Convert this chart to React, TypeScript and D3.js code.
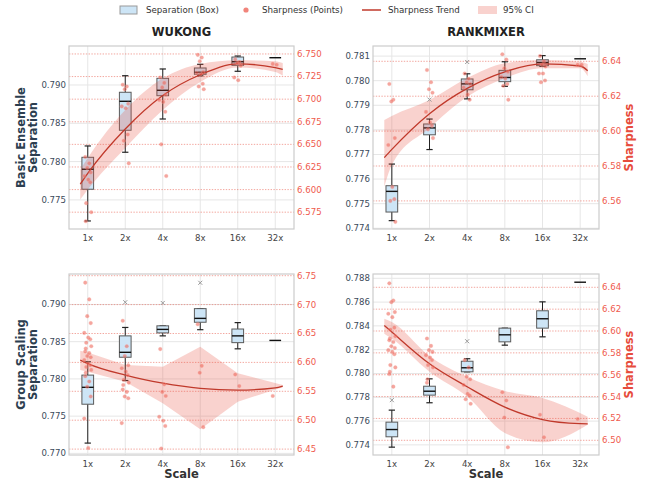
import React from "react";
import * as d3 from "d3";

// ---------- data ----------
const SCALES = ["1x", "2x", "4x", "8x", "16x", "32x"];
const MODELS = ["WUKONG", "RANKMIXER"];
const SETTINGS = ["Basic Ensemble", "Group Scaling"];

// Separation box stats per scale: [whisker low, q1, median, q3, whisker high]
const wukongBasicBoxes = [
  [0.77225, 0.77639, 0.779, 0.78056, 0.78204],
  [0.78122, 0.78409, 0.78787, 0.78905, 0.79121],
  [0.78556, 0.7886, 0.78931, 0.79087, 0.79209],
  [0.7912, 0.7914, 0.79166, 0.79222, 0.7927],
  [0.79179, 0.79257, 0.79304, 0.79365, 0.79378],
  [0.79356, 0.79356, 0.79356, 0.79356, 0.79356],
];
const rankmixerBasicBoxes = [
  [0.77431, 0.77466, 0.7755, 0.77573, 0.77661],
  [0.7772, 0.7778, 0.77808, 0.77824, 0.77844],
  [0.77926, 0.77963, 0.77987, 0.78007, 0.78028],
  [0.77977, 0.77996, 0.78013, 0.78042, 0.78077],
  [0.78058, 0.78061, 0.78074, 0.78085, 0.78102],
  [0.78089, 0.78089, 0.78089, 0.78089, 0.78089],
];
const wukongGroupBoxes = [
  [0.77138, 0.7766, 0.77887, 0.78051, 0.7823],
  [0.77978, 0.78291, 0.78357, 0.78578, 0.78691],
  [0.78578, 0.78618, 0.78665, 0.78713, 0.78713],
  [0.78661, 0.78761, 0.78813, 0.78944, 0.78944],
  [0.78404, 0.78487, 0.78578, 0.7867, 0.78756],
  [0.78517, 0.78517, 0.78517, 0.78517, 0.78517],
];
const rankmixerGroupBoxes = [
  [0.77381, 0.77468, 0.77529, 0.77591, 0.77692],
  [0.77754, 0.77818, 0.77851, 0.77893, 0.77955],
  [0.78014, 0.78014, 0.78048, 0.78103, 0.78124],
  [0.78238, 0.78266, 0.78325, 0.78381, 0.78381],
  [0.78308, 0.78381, 0.7846, 0.78527, 0.78602],
  [0.78767, 0.78767, 0.78767, 0.78767, 0.78767],
];

// Separation outliers: [scale index, value]
const wukongBasicOutliers: number[][] = [];
const rankmixerBasicOutliers = [[1, 0.77923], [2, 0.78076]];
const wukongGroupOutliers = [[1, 0.7903], [2, 0.7902], [3, 0.79291]];
const rankmixerGroupOutliers = [[0, 0.77776], [2, 0.78271]];

// Sharpness samples per scale
const wukongBasicSharp = [
  [6.636, 6.629, 6.624, 6.619, 6.615, 6.611, 6.608, 6.585, 6.575, 6.565],
  [6.716, 6.714, 6.711, 6.695, 6.692, 6.69, 6.661, 6.654, 6.629],
  [6.724, 6.718, 6.713, 6.705, 6.699, 6.697, 6.686, 6.65, 6.615],
  [6.749, 6.746, 6.742, 6.73, 6.729, 6.728, 6.717, 6.714, 6.711],
  [6.744, 6.741, 6.74, 6.737, 6.724, 6.721],
  [6.739, 6.738],
];
const rankmixerBasicSharp = [
  [6.627, 6.618, 6.617, 6.596, 6.592, 6.568, 6.561, 6.56, 6.548],
  [6.635, 6.628, 6.624, 6.622, 6.611, 6.605, 6.603, 6.601, 6.596],
  [6.633, 6.63, 6.628, 6.627, 6.625, 6.621, 6.618],
  [6.644, 6.641, 6.636, 6.634, 6.631, 6.63, 6.627, 6.626, 6.618],
  [6.643, 6.64, 6.638, 6.637, 6.633, 6.633, 6.629, 6.628],
  [6.638, 6.638],
];
const wukongGroupSharp = [
  [6.738, 6.709, 6.68, 6.668, 6.651, 6.643, 6.64, 6.634, 6.628, 6.624, 6.619, 6.616, 6.611,
    6.609, 6.604, 6.598, 6.595, 6.592, 6.587, 6.582, 6.576, 6.567, 6.558, 6.541, 6.503, 6.452],
  [6.672, 6.628, 6.611, 6.595, 6.59, 6.584, 6.578, 6.57, 6.565, 6.561, 6.553, 6.549, 6.541, 6.538, 6.495],
  [6.623, 6.562, 6.549, 6.542, 6.506, 6.499, 6.49, 6.451],
  [6.666, 6.594, 6.582, 6.488],
  [6.579, 6.559],
  [6.542],
];
const rankmixerGroupSharp = [
  [6.6436, 6.6279, 6.6264, 6.6173, 6.6158, 6.6127, 6.6031, 6.6013, 6.5952, 6.5931, 6.5915,
    6.59, 6.5861, 6.5845, 6.5825, 6.5809, 6.5788, 6.5688, 6.5667, 6.5627, 6.5606, 6.5491],
  [6.5931, 6.5864, 6.5825, 6.5809, 6.5779, 6.5758, 6.5734, 6.5688, 6.5667, 6.5558, 6.5527],
  [6.5734, 6.5667, 6.5582, 6.5558, 6.5506, 6.5425, 6.5409, 6.5376, 6.5334],
  [6.544, 6.5364, 6.5209, 6.4936],
  [6.5234, 6.5027],
  [6.5195],
];

// Sharpness trend (position on the scale index axis) and 95% CI
const trendX = [-0.2, 0, 1, 2, 3, 4, 5, 5.2];
const wukongBasicTrend = [6.606, 6.618, 6.667, 6.704, 6.727, 6.739, 6.735, 6.733];
const rankmixerBasicTrend = [6.5848, 6.5895, 6.61, 6.6245, 6.634, 6.6385, 6.6373, 6.6346];
const wukongGroupTrend = [6.604, 6.598, 6.578, 6.564, 6.555, 6.552, 6.556, 6.559];
const rankmixerGroupTrend = [6.605, 6.599, 6.57, 6.549, 6.5304, 6.519, 6.5152, 6.515];

const wukongBasicCiX = [-0.2, 0, 1, 2, 3, 4, 5, 5.2];
const wukongBasicCiLo = [6.589, 6.6, 6.646, 6.688, 6.719, 6.735, 6.73, 6.726];
const wukongBasicCiHi = [6.622, 6.635, 6.688, 6.723, 6.739, 6.743, 6.742, 6.74];
const rankmixerBasicCiX = [-0.2, 0, 1, 2, 3, 4, 5, 5.2];
const rankmixerBasicCiLo = [6.5681, 6.5806, 6.6018, 6.6197, 6.6303, 6.636, 6.636, 6.6315];
const rankmixerBasicCiHi = [6.6064, 6.6087, 6.6178, 6.6304, 6.6389, 6.6407, 6.6398, 6.6385];
const wukongGroupCiX = [-0.2, 0, 1, 2, 3, 4, 5.2];
const wukongGroupCiLo = [6.5869, 6.584, 6.5666, 6.5292, 6.4843, 6.532, 6.5569];
const wukongGroupCiHi = [6.62, 6.617, 6.5955, 6.5926, 6.6272, 6.5811, 6.5609];
const rankmixerGroupCiX = [-0.2, 0, 1, 2, 3, 4, 5.2];
const rankmixerGroupCiLo = [6.5976, 6.5931, 6.5627, 6.54, 6.5067, 6.4982, 6.5143];
const rankmixerGroupCiHi = [6.6113, 6.6082, 6.577, 6.5582, 6.5452, 6.5386, 6.5215];

// Axis ticks
const sepTicksWB = [0.775, 0.78, 0.785, 0.79];
const sepTicksRB = [0.774, 0.775, 0.776, 0.777, 0.778, 0.779, 0.78, 0.781];
const sepTicksWG = [0.77, 0.775, 0.78, 0.785, 0.79];
const sepTicksRG = [0.774, 0.776, 0.778, 0.78, 0.782, 0.784, 0.786, 0.788];
const shpTicksWB = [6.575, 6.6, 6.625, 6.65, 6.675, 6.7, 6.725, 6.75];
const shpTicksRB = [6.56, 6.58, 6.6, 6.62, 6.64];
const shpTicksWG = [6.45, 6.5, 6.55, 6.6, 6.65, 6.7, 6.75];
const shpTicksRG = [6.5, 6.52, 6.54, 6.56, 6.58, 6.6, 6.62, 6.64];

// ---------- layout & style ----------
const W = 653;
const H = 482;
const FONT = "DejaVu Sans, Verdana, sans-serif";
const COLS = [{ l: 69, r: 294 }, { l: 373, r: 599 }];
const ROWS = [{ t: 46, b: 229 }, { t: 274, b: 455 }];

const C = {
  boxFill: "#cde5f6",
  boxStroke: "#5a5a5a",
  point: "#ec5b4f",
  trend: "#c0392b",
  band: "#e74c3c",
  redText: "#ef5a4c",
  sepText: "#3b4a5a",
  axisTitle: "#2c3e50",
  grid: "#e6e6e6",
  frame: "#cccccc",
};

const JITTER = [-2.5, 1.5, -0.5, 3, -3.5, 0.5, 2.5, -1.5, 3.5, -2];

type PanelCfg = {
  row: number;
  col: number;
  sepDomain: [number, number];
  shpDomain: [number, number];
  sepTicks: number[];
  shpTicks: number[];
  shpFmt: string;
  boxes: number[][];
  outliers: number[][];
  sharp: number[][];
  trend: number[];
  ciX: number[];
  ciLo: number[];
  ciHi: number[];
  ciCurve: any;
};

const panels: PanelCfg[] = [
  {
    row: 0, col: 0, sepDomain: [0.7712, 0.79509], shpDomain: [6.5564, 6.7588],
    sepTicks: sepTicksWB, shpTicks: shpTicksWB, shpFmt: ".3f",
    boxes: wukongBasicBoxes, outliers: wukongBasicOutliers, sharp: wukongBasicSharp,
    trend: wukongBasicTrend, ciX: wukongBasicCiX, ciLo: wukongBasicCiLo, ciHi: wukongBasicCiHi,
    ciCurve: d3.curveMonotoneX,
  },
  {
    row: 0, col: 1, sepDomain: [0.77397, 0.78141], shpDomain: [6.5439, 6.64877],
    sepTicks: sepTicksRB, shpTicks: shpTicksRB, shpFmt: ".2f",
    boxes: rankmixerBasicBoxes, outliers: rankmixerBasicOutliers, sharp: rankmixerBasicSharp,
    trend: rankmixerBasicTrend, ciX: rankmixerBasicCiX, ciLo: rankmixerBasicCiLo, ciHi: rankmixerBasicCiHi,
    ciCurve: d3.curveMonotoneX,
  },
  {
    row: 1, col: 0, sepDomain: [0.76978, 0.79409], shpDomain: [6.4398, 6.75294],
    sepTicks: sepTicksWG, shpTicks: shpTicksWG, shpFmt: ".2f",
    boxes: wukongGroupBoxes, outliers: wukongGroupOutliers, sharp: wukongGroupSharp,
    trend: wukongGroupTrend, ciX: wukongGroupCiX, ciLo: wukongGroupCiLo, ciHi: wukongGroupCiHi,
    ciCurve: d3.curveLinear,
  },
  {
    row: 1, col: 1, sepDomain: [0.77315, 0.78836], shpDomain: [6.48655, 6.65217],
    sepTicks: sepTicksRG, shpTicks: shpTicksRG, shpFmt: ".2f",
    boxes: rankmixerGroupBoxes, outliers: rankmixerGroupOutliers, sharp: rankmixerGroupSharp,
    trend: rankmixerGroupTrend, ciX: rankmixerGroupCiX, ciLo: rankmixerGroupCiLo, ciHi: rankmixerGroupCiHi,
    ciCurve: d3.curveMonotoneX,
  },
];

function Panel({ p }: { p: PanelCfg }) {
  const { l, r } = COLS[p.col];
  const { t, b } = ROWS[p.row];
  const step = (r - l) / SCALES.length;
  const x = d3.scaleLinear().domain([0, SCALES.length - 1]).range([l + step / 2, r - step / 2]);
  const yS = d3.scaleLinear().domain(p.sepDomain).range([b, t]);
  const yR = d3.scaleLinear().domain(p.shpDomain).range([b, t]);
  const fmtR = d3.format(p.shpFmt);
  const fmtL = d3.format(".3f");
  const boxW = 11.7;
  const capW = 6.3;

  const trendLine = d3
    .line<number>()
    .x((_, i) => x(trendX[i]))
    .y((v) => yR(v))
    .curve(d3.curveMonotoneX)(p.trend);

  const band = d3
    .area<number>()
    .x((_, i) => x(p.ciX[i]))
    .y0((_, i) => yR(p.ciLo[i]))
    .y1((_, i) => yR(p.ciHi[i]))
    .curve(p.ciCurve)(p.ciX);

  const clipId = `clip-${p.row}-${p.col}`;

  return (
    <g>
      <defs>
        <clipPath id={clipId}>
          <rect x={l} y={t} width={r - l} height={b - t} />
        </clipPath>
      </defs>
      {/* grid */}
      {SCALES.map((_, i) => (
        <line key={"vx" + i} x1={x(i)} x2={x(i)} y1={t} y2={b} stroke={C.grid} strokeWidth={1} />
      ))}
      {p.sepTicks.map((v) => (
        <line key={"hg" + v} x1={l} x2={r} y1={yS(v)} y2={yS(v)} stroke={C.grid} strokeWidth={1} />
      ))}
      {p.shpTicks.map((v) => (
        <line key={"rg" + v} x1={l} x2={r} y1={yR(v)} y2={yR(v)} stroke={C.band}
          strokeOpacity={0.55} strokeWidth={0.9} strokeDasharray="1.4,1.4" />
      ))}

      {/* boxes */}
      {p.boxes.map((bx, i) => {
        const cx = x(i);
        const [lo, q1, med, q3, hi] = bx;
        const single = lo === hi;
        return (
          <g key={"box" + i}>
            {!single && (
              <>
                <line x1={cx} x2={cx} y1={yS(hi)} y2={yS(q3)} stroke="#222" strokeWidth={1} />
                <line x1={cx} x2={cx} y1={yS(q1)} y2={yS(lo)} stroke="#222" strokeWidth={1} />
                <line x1={cx - capW / 2} x2={cx + capW / 2} y1={yS(hi)} y2={yS(hi)} stroke="#222" strokeWidth={1.2} />
                <line x1={cx - capW / 2} x2={cx + capW / 2} y1={yS(lo)} y2={yS(lo)} stroke="#222" strokeWidth={1.2} />
                <rect x={cx - boxW / 2} y={yS(q3)} width={boxW} height={Math.max(0.5, yS(q1) - yS(q3))}
                  fill={C.boxFill} stroke={C.boxStroke} strokeWidth={1} />
              </>
            )}
            <line x1={cx - boxW / 2} x2={cx + boxW / 2} y1={yS(med)} y2={yS(med)} stroke="#111" strokeWidth={1.4} />
          </g>
        );
      })}

      {/* CI band and trend */}
      <g clipPath={`url(#${clipId})`}>
        <path d={band || ""} fill={C.band} fillOpacity={0.25} stroke="none" />
        <path d={trendLine || ""} fill="none" stroke={C.trend} strokeWidth={1.3} />
      </g>

      {/* sharpness points */}
      {p.sharp.map((vals, i) =>
        vals.map((v, j) => (
          <circle key={`pt${i}-${j}`} cx={x(i) + JITTER[j % JITTER.length]} cy={yR(v)} r={1.8}
            fill={C.point} fillOpacity={0.55} stroke="#f5a39b" strokeOpacity={0.5} strokeWidth={0.6} />
        ))
      )}

      {/* outliers */}
      {p.outliers.map(([i, v], k) => {
        const cx = x(i);
        const cy = yS(v);
        const s = 2;
        return (
          <path key={"ol" + k} d={`M${cx - s},${cy - s}L${cx + s},${cy + s}M${cx - s},${cy + s}L${cx + s},${cy - s}`}
            stroke="#999" strokeWidth={1} />
        );
      })}

      {/* frame */}
      <rect x={l} y={t} width={r - l} height={b - t} fill="none" stroke={C.frame} strokeWidth={1.2} />

      {/* axes text */}
      {p.sepTicks.map((v) => (
        <text key={"lt" + v} x={l - 3} y={yS(v)} dy="0.34em" textAnchor="end" fontSize={8.6}
          fontFamily={FONT} fill={C.sepText}>{fmtL(v)}</text>
      ))}
      {p.shpTicks.map((v) => (
        <text key={"rt" + v} x={r + 3} y={yR(v)} dy="0.34em" textAnchor="start" fontSize={8.6}
          fontFamily={FONT} fill={C.redText}>{fmtR(v)}</text>
      ))}
      {SCALES.map((s, i) => (
        <text key={"xt" + i} x={x(i)} y={b + 11.5} textAnchor="middle" fontSize={8.6}
          fontFamily={FONT} fill="#444">{s}</text>
      ))}
    </g>
  );
}

export default function App() {
  const legendY = 10;
  return (
    <div style={{ position: "absolute", left: 0, top: 0 }}>
      <svg width={W} height={H} viewBox={`0 0 ${W} ${H}`} style={{ display: "block", background: "#fff" }}>
        {/* legend */}
        <g fontFamily={FONT} fontSize={8.7} fill="#333">
          <rect x={120} y={legendY - 4} width={17} height={8} fill={C.boxFill} stroke="#999" strokeWidth={1} />
          <text x={146} y={legendY} dy="0.34em">Separation (Box)</text>
          <circle cx={246} cy={legendY} r={2.6} fill={C.point} fillOpacity={0.75} />
          <text x={262} y={legendY} dy="0.34em">Sharpness (Points)</text>
          <line x1={362} x2={381} y1={legendY} y2={legendY} stroke={C.trend} strokeWidth={1.5} />
          <text x={388} y={legendY} dy="0.34em">Sharpness Trend</text>
          <rect x={478} y={legendY - 4} width={19} height={8} fill={C.band} fillOpacity={0.25} />
          <text x={503} y={legendY} dy="0.34em">95% CI</text>
        </g>

        {/* column titles */}
        {MODELS.map((m, c) => (
          <text key={m} x={(COLS[c].l + COLS[c].r) / 2} y={32} dy="0.35em" textAnchor="middle"
            fontFamily={FONT} fontSize={11.5} fontWeight="bold" fill="#222">{m}</text>
        ))}

        {panels.map((p, k) => (
          <Panel key={k} p={p} />
        ))}

        {/* row titles */}
        {SETTINGS.map((s, rI) => {
          const cy = (ROWS[rI].t + ROWS[rI].b) / 2;
          return (
            <g key={s} fontFamily={FONT} fontSize={11.5} fontWeight="bold" fill={C.axisTitle}>
              <text transform={`translate(21,${cy}) rotate(-90)`} textAnchor="middle" dy="0.35em">{s}</text>
              <text transform={`translate(33,${cy}) rotate(-90)`} textAnchor="middle" dy="0.35em">Separation</text>
            </g>
          );
        })}

        {/* right axis titles */}
        {ROWS.map((row, rI) => (
          <text key={"sh" + rI} transform={`translate(629,${(row.t + row.b) / 2}) rotate(-90)`}
            textAnchor="middle" dy="0.35em" fontFamily={FONT} fontSize={11.5} fontWeight="bold" fill="#e74c3c">
            Sharpness
          </text>
        ))}

        {/* x axis titles */}
        {COLS.map((c, cI) => (
          <text key={"sc" + cI} x={(c.l + c.r) / 2} y={474} dy="0.35em" textAnchor="middle"
            fontFamily={FONT} fontSize={11.5} fontWeight="bold" fill="#333">Scale</text>
        ))}
      </svg>
    </div>
  );
}
